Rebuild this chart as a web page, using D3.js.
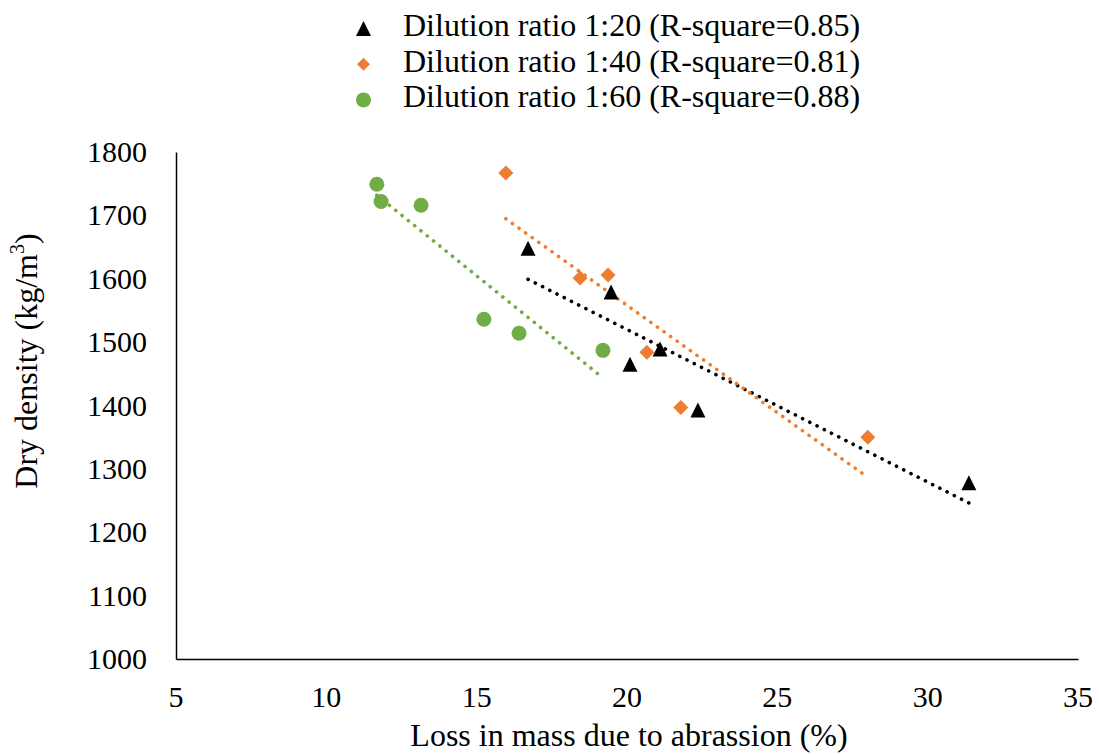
<!DOCTYPE html>
<html>
<head>
<meta charset="utf-8">
<script src="https://cdn.jsdelivr.net/npm/d3@7"></script>
</head>
<body style="margin:0;background:#fff">
<svg id="chart" width="1099" height="754"></svg>
<script>
// values
const lossRatio20 = [16.71, 19.47, 20.10, 21.10, 22.36, 31.37];
const densRatio20 = [1648, 1579, 1465, 1489, 1393, 1278];
const lossRatio40 = [15.97, 18.44, 19.37, 20.66, 21.79, 28.01];
const densRatio40 = [1767, 1601, 1606, 1484, 1397, 1350];
const lossRatio60 = [11.68, 11.82, 13.15, 15.24, 16.41, 19.20];
const densRatio60 = [1749, 1722, 1716, 1536, 1514, 1487];

const seriesNames = ["Dilution ratio 1:20 (R-square=0.85)",
  "Dilution ratio 1:40 (R-square=0.81)",
  "Dilution ratio 1:60 (R-square=0.88)"];
const xTicks = [5, 10, 15, 20, 25, 30, 35];
const yTicks = [1000, 1100, 1200, 1300, 1400, 1500, 1600, 1700, 1800];

const colors = ["#000000", "#ED7D31", "#70AD47"];
const shapes = ["triangle", "diamond", "circle"];
const FONT = '"Liberation Serif", "Times New Roman", serif';

const series = [
  {x: lossRatio20, y: densRatio20},
  {x: lossRatio40, y: densRatio40},
  {x: lossRatio60, y: densRatio60}
].map((s, i) => ({
  name: seriesNames[i], color: colors[i], shape: shapes[i],
  points: s.x.map((v, j) => ({x: v, y: s.y[j]}))
}));

const width = 1099, height = 754;
const margin = {top: 152, right: 21, bottom: 95, left: 176};

const svg = d3.select("#chart");

const xScale = d3.scaleLinear().domain([5, 35]).range([margin.left, width - margin.right]);
const yScale = d3.scaleLinear().domain([1000, 1800]).range([height - margin.bottom, margin.top]);

// marker path centred on 0,0
function marker(shape, s) {
  const h = s / 2;
  if (shape === "triangle") return `M0,${-h}L${h},${h}L${-h},${h}Z`;
  if (shape === "diamond") return `M0,${-h}L${h},0L0,${h}L${-h},0Z`;
  return `M${h},0A${h},${h} 0 1,1 ${-h},0A${h},${h} 0 1,1 ${h},0Z`;
}

// least squares trendline over the data range
function trend(points) {
  const mx = d3.mean(points, d => d.x), my = d3.mean(points, d => d.y);
  const sxy = d3.sum(points, d => (d.x - mx) * (d.y - my));
  const sxx = d3.sum(points, d => (d.x - mx) ** 2);
  const b = sxy / sxx, a = my - b * mx;
  const [x0, x1] = d3.extent(points, d => d.x);
  return [{x: x0, y: a + b * x0}, {x: x1, y: a + b * x1}];
}

// axis lines from d3, labels drawn as plain text so the serif font sticks
const yAxis = d3.axisLeft(yScale).tickValues(yTicks).tickFormat(() => "")
  .tickSize(0).tickSizeOuter(0);
const xAxis = d3.axisBottom(xScale).tickValues(xTicks).tickFormat(() => "")
  .tickSize(0).tickSizeOuter(0);

svg.append("g")
  .attr("transform", `translate(${margin.left},0)`)
  .call(yAxis)
  .select(".domain").attr("stroke", "#000").attr("stroke-width", 1.5);

svg.append("g")
  .attr("transform", `translate(0,${height - margin.bottom})`)
  .call(xAxis)
  .select(".domain").attr("stroke", "#000").attr("stroke-width", 1.5);

svg.append("g").selectAll("text")
  .data(yTicks)
  .join("text")
  .attr("x", margin.left - 29)
  .attr("y", d => yScale(d) + 10)
  .attr("text-anchor", "end")
  .style("font-family", FONT).style("font-size", "30px")
  .text(d => d);

svg.append("g").selectAll("text")
  .data(xTicks)
  .join("text")
  .attr("x", d => xScale(d))
  .attr("y", height - margin.bottom + 48)
  .attr("text-anchor", "middle")
  .style("font-family", FONT).style("font-size", "30px")
  .text(d => d);

// trendlines
const line = d3.line().x(d => xScale(d.x)).y(d => yScale(d.y));
svg.append("g").selectAll("path")
  .data(series)
  .join("path")
  .attr("d", d => line(trend(d.points)))
  .attr("fill", "none")
  .attr("stroke", d => d.color)
  .attr("stroke-width", 3.6)
  .attr("stroke-linecap", "round")
  .attr("stroke-dasharray", "0.1 8");

// markers
series.forEach(s => {
  svg.append("g").selectAll("path")
    .data(s.points)
    .join("path")
    .attr("transform", d => `translate(${xScale(d.x)},${yScale(d.y)})`)
    .attr("d", marker(s.shape, 15))
    .attr("fill", s.color);
});

// legend
const legend = svg.append("g");
series.forEach((s, i) => {
  const base = 36 + i * 35.7;
  legend.append("path")
    .attr("transform", `translate(363.5,${base - 7.5})`)
    .attr("d", marker(s.shape, s.shape === "diamond" ? 13 : 15))
    .attr("fill", s.color);
  legend.append("text")
    .attr("x", 403).attr("y", base)
    .style("font-family", FONT).style("font-size", "32px")
    .text(s.name);
});

// axis titles
svg.append("text")
  .attr("x", 629)
  .attr("y", 746)
  .attr("text-anchor", "middle")
  .style("font-family", FONT).style("font-size", "32px")
  .text("Loss in mass due to abrassion (%)");

const yTitle = svg.append("text")
  .attr("transform", "translate(37,361) rotate(-90)")
  .attr("text-anchor", "middle")
  .style("font-family", FONT).style("font-size", "32px");
yTitle.append("tspan").text("Dry density (kg/m");
yTitle.append("tspan").style("font-size", "20px").attr("dy", -13).text("3");
yTitle.append("tspan").attr("dy", 13).text(")");
</script>
</body>
</html>
